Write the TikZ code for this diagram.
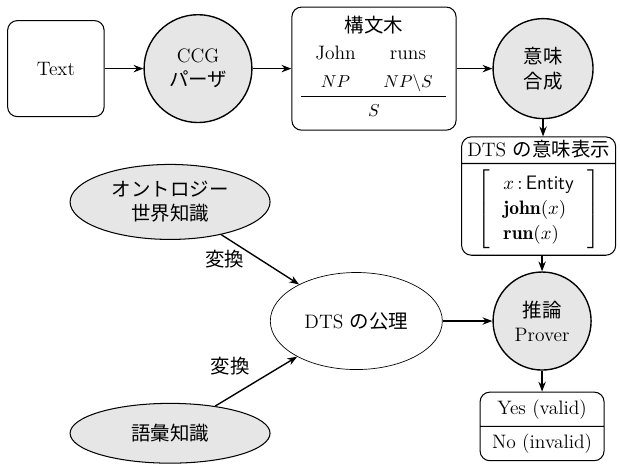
\documentclass[tikz,border=0pt]{standalone}
\usepackage{fontspec}
\usepackage{amsmath}
\usepackage{tikz}
\usetikzlibrary{shapes.geometric, shapes.multipart, arrows.meta, positioning}
\newfontfamily\jp{Noto Sans CJK JP}
\definecolor{procgray}{HTML}{E6E6E6}
\newcommand{\basesize}{\fontsize{11.3}{14}\selectfont}

\begin{document}
\begin{tikzpicture}[
    font=\basesize,
    procnode/.style={circle, draw=black, fill=procgray, thick, minimum size=#1, inner sep=0pt, align=center},
    boxnode/.style={rectangle, rounded corners=2mm, draw=black, semithick, align=center},
    splitnode/.style={rectangle split, rectangle split parts=2, rounded corners=2mm, draw=black, semithick, align=center},
    knownode/.style={ellipse, draw=black, fill=procgray, semithick, inner sep=0pt, minimum width=40.8mm, minimum height=#1, align=center, font=\basesize\jp},
    arrow/.style={-{Stealth[length=2mm]}, thick}
]

% Fixed frame
\useasboundingbox (0,0) rectangle (12.65,-9.47);

% Parsing pipeline (top row)
\node[boxnode, minimum width=19.7mm, minimum height=19.6mm] (txt) at (1.14,-1.40) {Text};
\node[procnode=22mm] (ccg) at (4.04,-1.40) {CCG\\{\jp パーザ}};
\node[boxnode, minimum width=33.5mm, minimum height=25.1mm] (tree) at (7.63,-1.40) {%
    \renewcommand{\arraystretch}{1.15}\setlength{\tabcolsep}{8pt}%
    \begin{tabular}{cc}
    \multicolumn{2}{c}{\jp 構文木}\\
    John & runs\\
    \fontsize{10}{12}\selectfont$NP$ & \fontsize{10}{12}\selectfont$NP\backslash S$\\ \hline
    \multicolumn{2}{c}{\fontsize{10}{12}\selectfont$S$}
    \end{tabular}};
\node[procnode=20.4mm, font=\basesize\jp] (sem) at (11.08,-1.40) {意味\\合成};

% Semantic representation and inference
\node[splitnode] (dts) at (10.99,-4.00) {DTS \smash{\jp の意味表示}
    \nodepart{two}\renewcommand{\arraystretch}{1.05}%
    $\left[\;\begin{array}{l} x\,{:}\,\mathsf{Entity}\\ \mathbf{john}(x)\\ \mathbf{run}(x)\end{array}\;\right]$};
\node[procnode=20mm] (prover) at (11.06,-6.55) {{\jp 推論}\\Prover};
\node[splitnode, minimum width=25.3mm, inner ysep=4pt] (result) at (11.06,-8.70) {Yes (valid)\nodepart{two}No (invalid)};

% Knowledge sources
\node[knownode=15.3mm] (onto) at (3.47,-4.12) {オントロジー\\世界知識};
\node[knownode=12.2mm] (lex) at (3.47,-8.84) {語彙知識};
\node[ellipse, draw=black, thin, minimum width=35.1mm, minimum height=19.8mm] (axiom) at (7.27,-6.55) {DTS {\jp の公理}};

% Connectors
\draw[arrow] (txt) -- (ccg);
\draw[arrow] (ccg) -- (tree);
\draw[arrow] (tree) -- (sem);
\draw[arrow] (sem) -- (sem |- dts.north);
\draw[arrow] (dts.south -| prover) -- (prover);
\draw[arrow] (prover) -- (result);
\draw[arrow] (axiom) -- (prover);
\draw[arrow] (onto) -- node[left=2mm, font=\basesize\jp] {変換} (axiom);
\draw[arrow] (lex) -- node[above left, font=\basesize\jp] {変換} (axiom);

\end{tikzpicture}
\end{document}
